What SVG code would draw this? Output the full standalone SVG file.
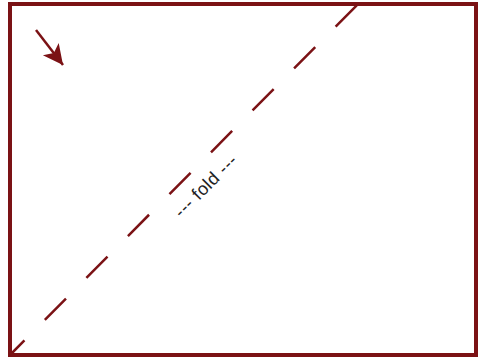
<svg xmlns="http://www.w3.org/2000/svg" width="478" height="362" viewBox="0 0 478 362">
<style>
.frame{fill:none;stroke:#7b1215;stroke-width:4}
.fold{fill:none;stroke:#7b1215;stroke-width:2.5;stroke-dasharray:30 29;stroke-dashoffset:9.5}
.lbl{font-family:"Liberation Sans",Arial,sans-serif;font-size:18px;fill:#222;letter-spacing:0.5px}
.arr{fill:none;stroke:#7b1215;stroke-width:2.5}
</style>
<defs>
<marker id="ah" markerUnits="userSpaceOnUse" markerWidth="24" markerHeight="22" refX="20" refY="10" orient="auto">
<path d="M0,0 L20,10 L0,20 L5,10 Z" fill="#7b1215"/>
</marker>
</defs>
<g id="sheet"><rect class="frame" x="10" y="4" width="466" height="351"/></g>
<g id="connectors">
<line class="fold" x1="10" y1="355" x2="358" y2="4"/>
<line class="arr" x1="36" y1="30" x2="63" y2="65" marker-end="url(#ah)"/>
</g>
<g id="label"><text class="lbl" x="0" y="0" text-anchor="middle" transform="translate(210,190) rotate(-45)">--- fold ---</text></g>
</svg>
